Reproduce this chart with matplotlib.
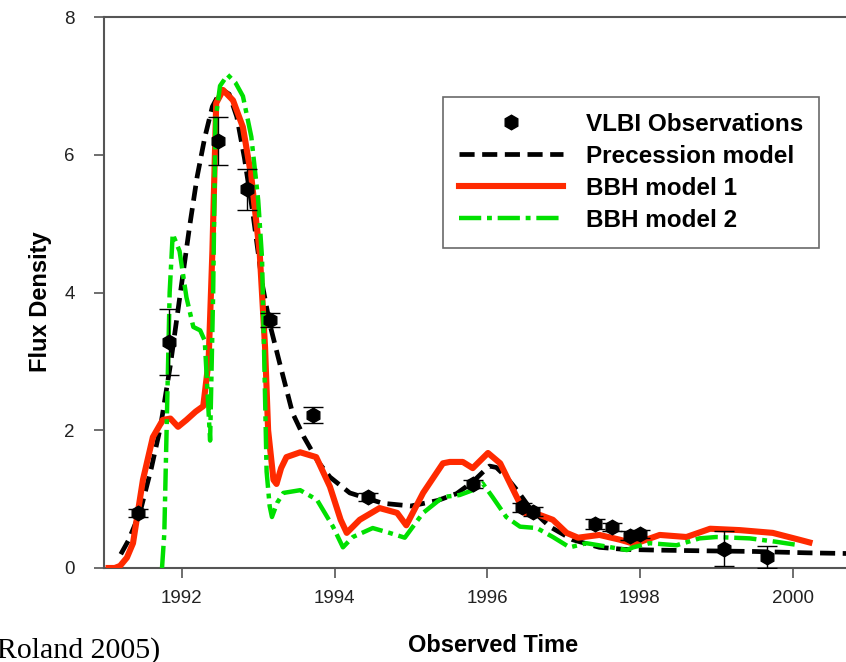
import matplotlib
matplotlib.use("Agg")
import matplotlib.pyplot as plt
from matplotlib.lines import Line2D

# ---- data ----
obs_year = [1991.43, 1991.83, 1992.47, 1992.85, 1993.15, 1993.72, 1994.44, 1995.81,
            1996.45, 1996.60, 1997.41, 1997.63, 1997.87, 1998.00, 1999.10, 1999.66]
obs_flux = [0.80, 3.28, 6.20, 5.50, 3.60, 2.22, 1.03, 1.22,
            0.88, 0.82, 0.64, 0.60, 0.47, 0.49, 0.28, 0.16]
obs_err = [0.06, 0.48, 0.35, 0.30, 0.10, 0.12, 0.06, 0.06,
           0.06, 0.06, 0.07, 0.06, 0.06, 0.06, 0.25, 0.16]

prec_year = [1991.20, 1991.30, 1991.45, 1991.60, 1991.72, 1991.85, 1992.00, 1992.10, 1992.20,
             1992.30, 1992.40, 1992.52, 1992.62, 1992.72, 1992.82, 1992.93, 1993.06, 1993.15,
             1993.28, 1993.45, 1993.60, 1993.78, 1993.94, 1994.20, 1994.63, 1995.00, 1995.35,
             1995.60, 1995.81, 1995.95, 1996.03, 1996.12, 1996.25, 1996.39, 1996.56, 1996.82,
             1997.12, 1997.47, 1997.80, 1998.20, 1998.80, 1999.50, 2000.20, 2000.75]
prec_flux = [0.20, 0.40, 0.80, 1.45, 2.05, 2.95, 4.15, 4.95, 5.68,
             6.25, 6.70, 6.95, 6.88, 6.55, 5.95, 5.15, 4.08, 3.55,
             2.98, 2.25, 1.90, 1.55, 1.32, 1.09, 0.94, 0.90, 0.98,
             1.08, 1.25, 1.40, 1.48, 1.46, 1.32, 1.13, 0.87, 0.60,
             0.41, 0.30, 0.27, 0.26, 0.25, 0.24, 0.22, 0.21]

bbh1_year = [1991.00, 1991.12, 1991.19, 1991.28, 1991.36, 1991.49, 1991.62, 1991.75, 1991.85,
             1991.95, 1992.06, 1992.18, 1992.28, 1992.35, 1992.40, 1992.45, 1992.54, 1992.67,
             1992.80, 1992.91, 1993.02, 1993.09, 1993.13, 1993.20, 1993.24, 1993.30, 1993.37,
             1993.55, 1993.76, 1993.94, 1994.08, 1994.16, 1994.33, 1994.59, 1994.82, 1994.94,
             1995.16, 1995.42, 1995.51, 1995.68, 1995.81, 1996.01, 1996.17, 1996.32, 1996.49,
             1996.69, 1996.86, 1997.04, 1997.19, 1997.47, 1997.74, 1997.93, 1998.26, 1998.61,
             1998.92, 1999.31, 1999.74, 2000.09, 2000.26]
bbh1_flux = [0.00, 0.00, 0.03, 0.15, 0.36, 1.28, 1.90, 2.15, 2.17,
             2.05, 2.15, 2.27, 2.35, 3.00, 4.60, 6.75, 6.94, 6.79,
             6.40, 5.68, 4.57, 3.20, 2.00, 1.28, 1.22, 1.45, 1.61,
             1.68, 1.61, 1.18, 0.70, 0.51, 0.70, 0.87, 0.80, 0.62,
             1.09, 1.52, 1.54, 1.54, 1.45, 1.67, 1.52, 1.18, 0.80,
             0.77, 0.70, 0.51, 0.44, 0.48, 0.41, 0.35, 0.48, 0.45,
             0.57, 0.55, 0.51, 0.41, 0.36]

bbh2_year = [1991.74, 1991.77, 1991.80, 1991.84, 1991.88, 1991.97, 1992.06, 1992.15, 1992.24,
             1992.30, 1992.37, 1992.41, 1992.44, 1992.50, 1992.60, 1992.70, 1992.80, 1992.91,
             1993.00, 1993.05, 1993.08, 1993.11, 1993.15, 1993.18, 1993.25, 1993.33, 1993.55,
             1993.77, 1993.98, 1994.11, 1994.24, 1994.50, 1994.72, 1994.92, 1995.16, 1995.42,
             1995.64, 1995.81, 1995.94, 1996.07, 1996.25, 1996.43, 1996.65, 1996.86, 1997.08,
             1997.30, 1997.57, 1997.83, 1997.91, 1998.13, 1998.48, 1998.78, 1999.00, 1999.44,
             1999.79, 2000.09]
bbh2_flux = [0.00, 0.50, 2.00, 4.00, 4.85, 4.60, 3.93, 3.50, 3.45,
             3.30, 1.85, 4.00, 6.50, 7.00, 7.16, 7.05, 6.85, 6.26,
             5.34, 4.50, 3.00, 1.40, 0.90, 0.74, 0.95, 1.09, 1.13,
             0.99, 0.60, 0.30, 0.45, 0.58, 0.51, 0.44, 0.80, 1.03,
             1.06, 1.13, 1.23, 1.03, 0.74, 0.60, 0.58, 0.45, 0.30,
             0.36, 0.31, 0.26, 0.30, 0.36, 0.33, 0.43, 0.45, 0.43,
             0.38, 0.33]

x_ticks = [1992, 1994, 1996, 1998, 2000]
y_ticks = [0, 2, 4, 6, 8]
legend_labels = ["VLBI Observations", "Precession model", "BBH model 1", "BBH model 2"]

# ---- figure ----
W, H = 846, 662
fig = plt.figure(figsize=(W / 100, H / 100), dpi=100)
ax = fig.add_axes([104 / W, 1 - 568 / H, 1 - 104 / W, (568 - 17) / H])

spine_col = "#555555"
sans = ["Liberation Sans", "DejaVu Sans"]
red = "#ff2a00"
green = "#00e000"

ax.plot(prec_year, prec_flux, color="black", lw=3.4, dashes=(3.2, 1.6), zorder=2)
ax.plot(bbh1_year, bbh1_flux, color=red, lw=4.4, solid_capstyle="butt", zorder=3)
ax.plot(bbh2_year, bbh2_flux, color=green, lw=3.2, dashes=(5, 1.3, 1.1, 1.3), zorder=4)
ax.errorbar(obs_year, obs_flux, yerr=obs_err, fmt="h", color="black", ms=10.5,
            ecolor="black", elinewidth=1.0, capsize=7, capthick=1.0, zorder=5)

ax.set_xlim(1990.98, 2000.70)
ax.set_ylim(0, 8)
ax.set_xticks(x_ticks)
ax.set_yticks(y_ticks)
ax.set_xticklabels([str(t) for t in x_ticks], family=sans, fontsize=13.5, color="#222222")
ax.set_yticklabels([str(t) for t in y_ticks], family=sans, fontsize=13.5, color="#222222")
ax.tick_params(axis="x", direction="out", length=7, width=1.2, color=spine_col, pad=9)
ax.tick_params(axis="y", direction="out", length=7, width=1.2, color=spine_col, pad=14)

for side in ["left", "bottom", "top"]:
    ax.spines[side].set_color(spine_col)
    ax.spines[side].set_linewidth(1.5)
ax.spines["right"].set_visible(False)

fig.text(40 / W, 1 - 302 / H, "Flux Density", rotation=90, ha="center", va="center",
         fontsize=17, fontweight="bold", family=sans)
fig.text(493 / W, 1 - 645 / H, "Observed Time", ha="center", va="center",
         fontsize=17, fontweight="bold", family=sans)
fig.text(-13 / W, 1 - 651 / H, "(Roland 2005)", ha="left", va="center",
         fontsize=21.5, family=["Liberation Serif", "DejaVu Serif"])

handles = [
    Line2D([], [], marker="h", color="black", ls="none", ms=10.5),
    Line2D([], [], color="black", lw=3.4, dashes=(3.2, 1.6)),
    Line2D([], [], color=red, lw=4.4),
    Line2D([], [], color=green, lw=3.2, dashes=(5, 1.3, 1.1, 1.3)),
]
leg = ax.legend(handles, legend_labels, loc="upper left",
                bbox_to_anchor=(443 / W, 1 - 97 / H), bbox_transform=fig.transFigure,
                borderaxespad=0, frameon=True, fancybox=False, shadow=False,
                handlelength=4.3, handletextpad=0.95, labelspacing=0.37, borderpad=0.65,
                prop={"family": sans, "weight": "bold", "size": 17.5})
leg.get_frame().set_edgecolor("#444444")
leg.get_frame().set_linewidth(1.2)

fig.savefig("out.png", dpi=100)
